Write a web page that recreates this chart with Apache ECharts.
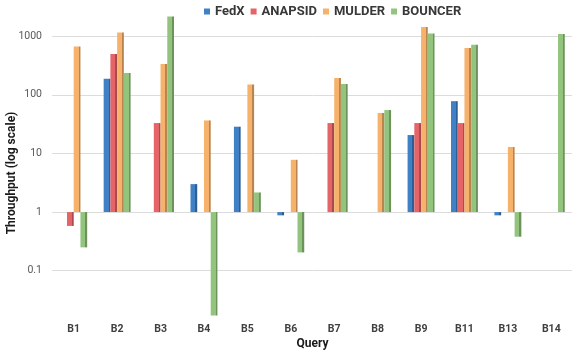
<!DOCTYPE html>
<html>
<head>
<meta charset="utf-8">
<script src="https://cdn.jsdelivr.net/npm/echarts@6/dist/echarts.min.js"></script>
<style>
  html, body { margin: 0; padding: 0; background: #ffffff; }
  #chart { width: 572px; height: 352px; }
</style>
</head>
<body>
<div id="chart"></div>
<script>
// Throughput per benchmark query, one series per federated engine
var categories = ['B1', 'B2', 'B3', 'B4', 'B5', 'B6', 'B7', 'B8', 'B9', 'B11', 'B13', 'B14'];
var seriesNames = ['FedX', 'ANAPSID', 'MULDER', 'BOUNCER'];
var fedx    = [null, 188, null, 3.0, 28.6, 0.88, null, null, 20.6, 78, 0.88, null];
var anapsid = [0.58, 497, 33, null, null, null, 33, null, 33, 33, null, null];
var mulder  = [670, 1160, 336, 36.6, 150, 7.8, 194, 49, 1435, 629, 12.9, null];
var bouncer = [0.25, 235, 2177, 0.0172, 2.16, 0.205, 153, 55, 1116, 716, 0.38, 1091];

var values = [fedx, anapsid, mulder, bouncer];
var faceColors = ['#4080c4', '#e46468', '#f6b26b', '#93c47d'];
var sideColors = ['#2d5f95', '#a94a4e', '#b8844f', '#6c935c'];

// bars with a darker right edge for a bevelled look
function barFill(i) {
  return new echarts.graphic.LinearGradient(0, 0, 1, 0, [
    { offset: 0, color: faceColors[i] },
    { offset: 0.72, color: faceColors[i] },
    { offset: 0.72, color: sideColors[i] },
    { offset: 1, color: sideColors[i] }
  ]);
}

var chart = echarts.init(document.getElementById('chart'), null, { renderer: 'canvas' });

var series = seriesNames.map(function (name, i) {
  return {
    name: name,
    type: 'bar',
    data: values[i].map(function (v) { return v == null ? '-' : v; }),
    barGap: '0%',
    barCategoryGap: '38%',
    itemStyle: { color: barFill(i) }
  };
});

chart.setOption({
  backgroundColor: '#ffffff',
  animation: false,
  color: faceColors,
  legend: {
    data: seriesNames.map(function (n, i) {
      return { name: n, itemStyle: { color: faceColors[i] } };
    }),
    top: 0,
    left: 199,
    icon: 'rect',
    itemWidth: 6,
    itemHeight: 6,
    itemGap: 6,
    textStyle: { fontFamily: 'Roboto', fontWeight: 'bold', fontSize: 13, color: '#383838' }
  },
  grid: { left: 52, right: -1, top: 10, bottom: 33, containLabel: false, outerBoundsMode: 'none' },
  xAxis: {
    type: 'category',
    data: categories,
    name: 'Query',
    nameLocation: 'middle',
    nameGap: 19,
    nameMoveOverlap: false,
    nameTextStyle: { fontFamily: 'Roboto', fontWeight: 'bold', fontSize: 12, color: '#1a1a1a' },
    axisLine: { show: false },
    axisTick: { show: false },
    axisLabel: { margin: 5, fontFamily: 'Roboto', fontWeight: 'bold', fontSize: 10.5, color: '#404040' }
  },
  yAxis: {
    type: 'log',
    logBase: 10,
    min: 0.015,
    max: 2800,
    name: 'Throughput (log scale)',
    nameLocation: 'middle',
    nameGap: 34,
    nameMoveOverlap: false,
    nameTextStyle: { fontFamily: 'Roboto', fontWeight: 'bold', fontSize: 12, color: '#1a1a1a', padding: [0, 17, 0, 0] },
    axisLine: { show: false },
    axisTick: { show: false },
    axisLabel: {
      margin: 10,
      fontFamily: 'Roboto',
      fontSize: 10.5,
      color: '#595959',
      showMinLabel: false,
      showMaxLabel: false,
      formatter: function (v) { return String(+Number(v).toPrecision(6)); }
    },
    splitLine: { show: true, showMinLine: false, showMaxLine: false, lineStyle: { color: '#dcdcdc', width: 1 } }
  },
  series: series
});
</script>
</body>
</html>
